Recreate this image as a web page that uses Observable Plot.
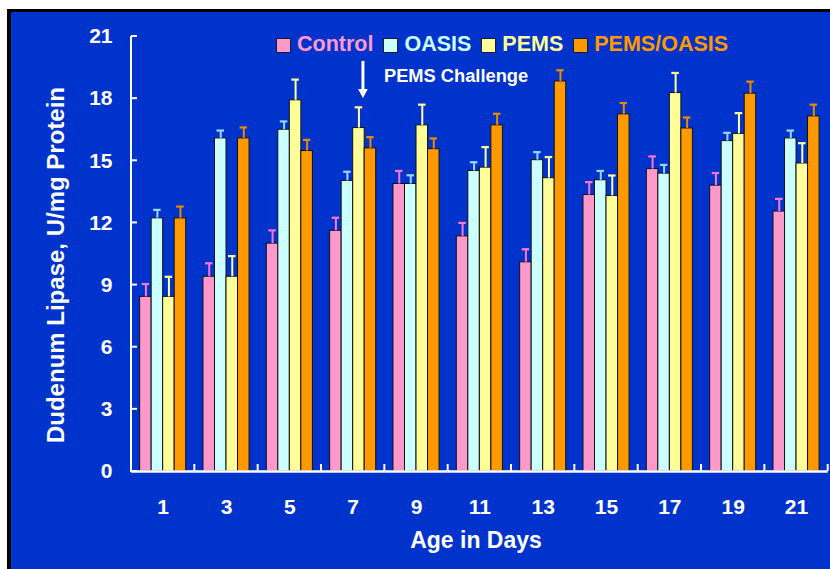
<!DOCTYPE html>
<html>
<head>
<meta charset="utf-8">
<script src="https://cdn.jsdelivr.net/npm/d3@7"></script>
<script src="https://cdn.jsdelivr.net/npm/@observablehq/plot@0.6"></script>
<style>
html, body { margin: 0; padding: 0; background: #fff; }
#wrap { position: relative; width: 830px; height: 569px; overflow: hidden;
  font-family: "Liberation Sans", Arial, sans-serif; font-weight: bold; }
#card { position: absolute; left: 7px; top: 9px; width: 823px; height: 560px; box-sizing: border-box;
  border-left: 4px solid #000; border-top: 3px solid #000; background: #0033CC; }
#chart { position: absolute; left: 0; top: 0; }
#legend { position: absolute; left: 276px; top: 33px; display: flex; align-items: center;
  font-size: 21.5px; line-height: 22px; white-space: nowrap; }
#legend .item { display: flex; align-items: center; margin-right: 10px; }
#legend .sw { width: 15px; height: 15px; box-sizing: border-box; border: 1.5px solid #1a1a2a; margin-right: 6px; margin-top: 2px; }
#ytitle { position: absolute; left: -144.5px; top: 253px; width: 400px; height: 24px; line-height: 24px;
  font-size: 24px; text-align: center; color: #fff; transform: rotate(-90deg); white-space: nowrap; }
#xtitle { position: absolute; left: 276px; top: 529px; width: 400px; height: 23px; line-height: 23px;
  font-size: 23px; text-align: center; color: #fff; white-space: nowrap; }
</style>
</head>
<body>
<div id="wrap">
  <div id="card"></div>
  <div id="chart"></div>
  <div id="legend"></div>
  <div id="ytitle">Dudenum Lipase, U/mg Protein</div>
  <div id="xtitle">Age in Days</div>
</div>
<script>
// ---- data ----
const days = [1, 3, 5, 7, 9, 11, 13, 15, 17, 19, 21];
const series = ["Control", "OASIS", "PEMS", "PEMS/OASIS"];
const fillColors = ["#FF99CC", "#CCFFFF", "#FFFF99", "#FF9900"];
const errColors = ["#FF77CC", "#99D6FF", "#FFFF99", "#E88A00"];
const yTicks = [0, 3, 6, 9, 12, 15, 18, 21];

const controlMean   = [8.43, 9.40, 11.00, 11.62, 13.88, 11.35, 10.10, 13.35, 14.60, 13.80, 12.55];
const controlSE     = [0.62, 0.65, 0.64, 0.63, 0.63, 0.65, 0.63, 0.62, 0.61, 0.61, 0.61];
const oasisMean     = [12.22, 16.08, 16.50, 14.03, 13.88, 14.51, 15.03, 14.06, 14.38, 15.95, 16.08];
const oasisSE       = [0.41, 0.38, 0.40, 0.44, 0.42, 0.42, 0.39, 0.45, 0.42, 0.40, 0.38];
const pemsMean      = [8.43, 9.40, 17.92, 16.58, 16.71, 14.67, 14.16, 13.30, 18.27, 16.30, 14.87];
const pemsSE        = [0.97, 1.00, 1.00, 1.00, 1.00, 0.99, 1.02, 0.99, 0.97, 1.00, 0.98];
const pemsOasisMean = [12.22, 16.08, 15.47, 15.60, 15.56, 16.71, 18.83, 17.24, 16.56, 18.24, 17.14];
const pemsOasisSE   = [0.57, 0.53, 0.54, 0.54, 0.52, 0.56, 0.54, 0.55, 0.53, 0.58, 0.57];

const annotation = [{day: 7, series: "PEMS", from: 19.8, to: 18.4, tip: 18.25, labelY: 19.1, label: "PEMS Challenge"}];

// ---- table ----
const means = [controlMean, oasisMean, pemsMean, pemsOasisMean];
const ses = [controlSE, oasisSE, pemsSE, pemsOasisSE];
const rows = [];
days.forEach((d, i) => series.forEach((s, j) => rows.push({
  day: d, series: s, value: means[j][i], top: means[j][i] + ses[j][i], err: errColors[j]
})));

const downTriangle = {
  draw(ctx, size) {
    const s = Math.sqrt(size), w = s * 0.55, h = s * 0.5;
    ctx.moveTo(-w, -h); ctx.lineTo(w, -h); ctx.lineTo(0, h); ctx.closePath();
  }
};

const plot = Plot.plot({
  width: 830, height: 569,
  marginLeft: 131, marginRight: 2.3, marginTop: 36, marginBottom: 98,
  style: {background: "transparent", color: "white", fontFamily: "'Liberation Sans', Arial, sans-serif",
          fontWeight: "bold", fontSize: "21px", overflow: "visible"},
  fx: {domain: days, padding: 0, round: false, axis: "bottom", tickSize: 0, tickPadding: 28, label: null},
  x: {domain: series, paddingInner: 0, paddingOuter: 0.75, round: false, axis: null},
  y: {domain: [0, 21], ticks: yTicks, tickSize: 0, tickPadding: 19, label: null},
  color: {domain: series, range: fillColors},
  marks: [
    Plot.barY(rows, {fx: "day", x: "series", y: "value", fill: "series", stroke: "#111", strokeWidth: 1}),
    Plot.ruleX(rows, {fx: "day", x: "series", y1: "value", y2: "top", stroke: "err", strokeWidth: 2}),
    Plot.tickY(rows, {fx: "day", x: "series", y: "top", stroke: "err", strokeWidth: 2.2, insetLeft: 2, insetRight: 2}),
    Plot.ruleY([0], {stroke: "white", strokeWidth: 2.5}),
    Plot.ruleX(annotation, {fx: "day", x: "series", y1: "from", y2: "to", stroke: "white", strokeWidth: 3, dx: 4}),
    Plot.dot(annotation, {fx: "day", x: "series", y: "tip", r: 5, symbol: downTriangle, fill: "white", stroke: "none", dx: 4}),
    Plot.text(annotation, {fx: "day", x: "series", y: "labelY", text: "label", textAnchor: "start", dx: 25,
                           fontSize: 18.3, fill: "white"})
  ]
});
document.getElementById("chart").appendChild(plot);

// axis lines and inward ticks, placed with Plot's own scales
const fxS = plot.scale("fx"), yS = plot.scale("y");
const band = d3.scaleBand().domain(fxS.domain).range(fxS.range).padding(0);
const fxPos = d => (fxS.apply ? fxS.apply(d) : band(d));
const bw = fxS.bandwidth ?? band.bandwidth();
const yPos = v => (yS.apply ? yS.apply(v) : d3.scaleLinear(yS.domain, yS.range)(v));
const g = d3.select(plot).append("g").attr("stroke", "white").attr("stroke-width", 2);
const x0 = fxPos(days[0]);
g.append("line").attr("x1", x0).attr("x2", x0).attr("y1", yPos(0) + 1).attr("y2", yPos(21));
yTicks.forEach(v => g.append("line").attr("x1", x0).attr("x2", x0 + 6).attr("y1", yPos(v)).attr("y2", yPos(v)));
const bounds = days.map(fxPos).concat([fxPos(days[days.length - 1]) + bw]);
bounds.forEach(b => g.append("line").attr("x1", b).attr("x2", b).attr("y1", yPos(0)).attr("y2", yPos(0) - 7));

// legend
const legend = d3.select("#legend");
series.forEach((s, j) => {
  const it = legend.append("div").attr("class", "item");
  it.append("div").attr("class", "sw").style("background", fillColors[j]);
  it.append("span").style("color", fillColors[j]).text(s);
});
</script>
</body>
</html>
